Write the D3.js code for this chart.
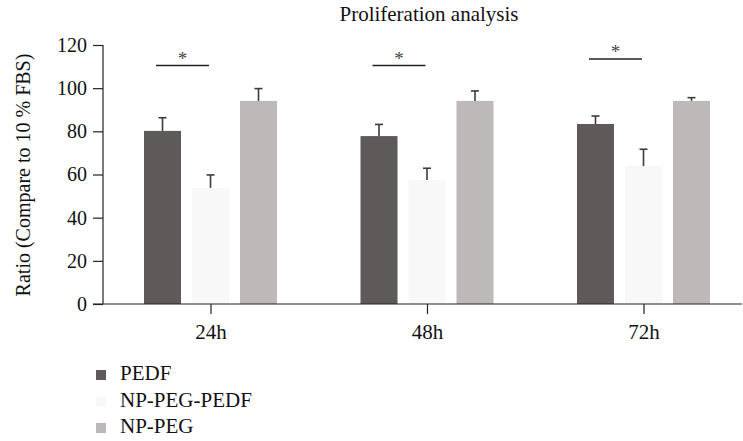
<!DOCTYPE html>
<html>
<head>
<meta charset="utf-8">
<script src="https://cdn.jsdelivr.net/npm/d3@7"></script>
<style>
  body { margin: 0; background: #fff; }
  text { font-family: "Liberation Serif", "DejaVu Serif", serif; }
</style>
</head>
<body>
<div id="chart"></div>
<script>
// data
var groups = ["24h", "48h", "72h"];
var keys = ["PEDF", "NP-PEG-PEDF", "NP-PEG"];
var pedf = [80.2, 77.8, 83.4];
var pedfErr = [6.1, 5.4, 3.7];
var npPegPedf = [53.8, 57.5, 63.9];
var npPegPedfErr = [6.0, 5.4, 7.8];
var npPeg = [94.1, 94.1, 94.1];
var npPegErr = [5.7, 4.6, 1.5];
var yTicks = [0, 20, 40, 60, 80, 100, 120];
// significance pairs (group, height)
var sig = [{g: "24h", h: 110.5}, {g: "48h", h: 110.5}, {g: "72h", h: 113.5}];

var width = 743, height = 441;
var serif = "'Liberation Serif', 'DejaVu Serif', serif";
var colors = {"PEDF": "#5e5a59", "NP-PEG-PEDF": "#f8f8f8", "NP-PEG": "#bdb9b8"};

var values = {"PEDF": pedf, "NP-PEG-PEDF": npPegPedf, "NP-PEG": npPeg};
var errs = {"PEDF": pedfErr, "NP-PEG-PEDF": npPegPedfErr, "NP-PEG": npPegErr};

var svg = d3.select("#chart")
  .append("svg")
    .attr("width", width)
    .attr("height", height)
    .attr("font-family", serif);

// scales
var x = d3.scalePoint()
  .domain(groups)
  .range([210.5, 643.5]);

var xSub = d3.scaleBand()
  .domain(keys)
  .range([-66.5, 66.5])
  .paddingInner(11 / 48)
  .paddingOuter(0);

var y = d3.scaleLinear()
  .domain([0, 120])
  .range([304, 45]);

// bars
var rows = [];
groups.forEach(function(g, i) {
  keys.forEach(function(k) {
    rows.push({g: g, k: k, v: values[k][i], e: errs[k][i]});
  });
});

svg.selectAll("rect.bar")
  .data(rows)
  .enter()
  .append("rect")
    .attr("class", "bar")
    .attr("x", function(d) { return x(d.g) + xSub(d.k); })
    .attr("y", function(d) { return y(d.v); })
    .attr("width", xSub.bandwidth())
    .attr("height", function(d) { return y(0) - y(d.v); })
    .attr("fill", function(d) { return colors[d.k]; });

// error bars
var eb = svg.selectAll("g.err")
  .data(rows)
  .enter()
  .append("g")
    .attr("class", "err")
    .attr("transform", function(d) {
      return "translate(" + (x(d.g) + xSub(d.k) + xSub.bandwidth() / 2) + ",0)";
    });
eb.append("line")
  .attr("x1", 0).attr("x2", 0)
  .attr("y1", function(d) { return y(d.v); })
  .attr("y2", function(d) { return y(d.v + d.e); })
  .attr("stroke", "#3e3b3b").attr("stroke-width", 1.6);
eb.append("line")
  .attr("x1", -4).attr("x2", 4)
  .attr("y1", function(d) { return y(d.v + d.e); })
  .attr("y2", function(d) { return y(d.v + d.e); })
  .attr("stroke", "#3e3b3b").attr("stroke-width", 1.6);

// y axis
var yAxis = svg.append("g")
  .attr("transform", "translate(103,0)")
  .call(d3.axisLeft(y).tickValues(yTicks).tickSize(10).tickPadding(6))
  .attr("font-family", serif)
  .attr("font-size", 20);
yAxis.select(".domain").remove();
yAxis.selectAll(".tick line").attr("stroke", "#222").attr("stroke-width", 1.2);
yAxis.selectAll(".tick text").attr("fill", "#111");
svg.append("line")
  .attr("x1", 103).attr("x2", 103)
  .attr("y1", y(120)).attr("y2", y(0))
  .attr("stroke", "#222").attr("stroke-width", 1.2);

// x axis
var xAxis = svg.append("g")
  .attr("transform", "translate(0," + y(0) + ")")
  .call(d3.axisBottom(x).tickSize(10).tickPadding(10))
  .attr("font-family", serif)
  .attr("font-size", 21);
xAxis.select(".domain").remove();
xAxis.selectAll(".tick line").attr("stroke", "#222").attr("stroke-width", 1.2);
xAxis.selectAll(".tick text").attr("fill", "#111");
svg.append("line")
  .attr("x1", 93).attr("x2", 742)
  .attr("y1", y(0)).attr("y2", y(0))
  .attr("stroke", "#222").attr("stroke-width", 1.2);

// significance marks between PEDF and NP-PEG-PEDF
var s = svg.selectAll("g.sig")
  .data(sig)
  .enter()
  .append("g")
    .attr("class", "sig");
s.append("line")
  .attr("x1", function(d) { return x(d.g) + xSub("PEDF") + 12; })
  .attr("x2", function(d) { return x(d.g) + xSub("NP-PEG-PEDF") + 17; })
  .attr("y1", function(d) { return y(d.h); })
  .attr("y2", function(d) { return y(d.h); })
  .attr("stroke", "#222").attr("stroke-width", 1.4);
s.append("text")
  .attr("x", function(d) { return x(d.g) + (xSub("PEDF") + xSub("NP-PEG-PEDF") + 29) / 2; })
  .attr("y", function(d) { return y(d.h) - 1; })
  .attr("text-anchor", "middle")
  .attr("fill", "#444")
  .attr("font-size", 19)
  .text("*");

// title
svg.append("text")
  .attr("x", 429)
  .attr("y", 21)
  .attr("text-anchor", "middle")
  .attr("fill", "#111")
  .attr("font-size", 21)
  .text("Proliferation analysis");

// y label
svg.append("text")
  .attr("transform", "translate(30,175) rotate(-90)")
  .attr("text-anchor", "middle")
  .attr("fill", "#111")
  .attr("font-size", 20)
  .text("Ratio (Compare to 10 % FBS)");

// legend
var legend = svg.selectAll("g.legend")
  .data(keys)
  .enter()
  .append("g")
    .attr("class", "legend")
    .attr("transform", function(d, i) { return "translate(96," + (370 + i * 26.5) + ")"; });
legend.append("rect")
  .attr("width", 10).attr("height", 10)
  .attr("fill", function(d) { return colors[d]; });
legend.append("text")
  .attr("x", 24)
  .attr("y", 10)
  .attr("fill", "#111")
  .attr("font-size", 21)
  .text(function(d) { return d; });
</script>
</body>
</html>
